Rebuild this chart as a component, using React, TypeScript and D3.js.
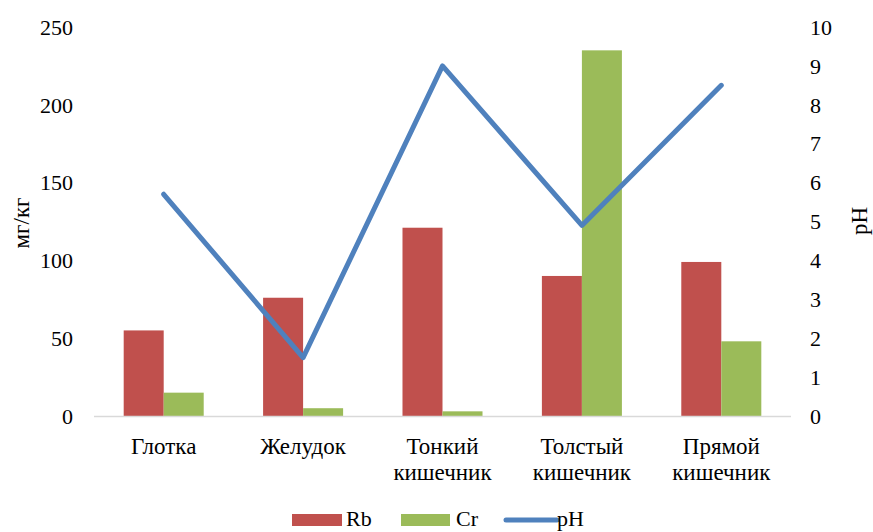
import React from "react";
import * as d3 from "d3";

const categories = [["Глотка"], ["Желудок"], ["Тонкий", "кишечник"], ["Толстый", "кишечник"], ["Прямой", "кишечник"]];
const rbValues = [55, 76, 121, 90, 99];
const crValues = [15, 5, 3, 235, 48];
const phValues = [5.7, 1.5, 9.0, 4.9, 8.5];
const leftTicks = [0, 50, 100, 150, 200, 250];
const rightTicks = [0, 1, 2, 3, 4, 5, 6, 7, 8, 9, 10];

const W = 873, H = 532;
const plot = { left: 94, right: 791, top: 27, bottom: 416 };
const RED = "#C0504D", GREEN = "#9BBB59", BLUE = "#4F81BD";
const FONT = "'Liberation Serif', 'Times New Roman', serif";

export default function App() {
  const idx = categories.map((_, i) => String(i));
  const x = d3.scaleBand().domain(idx).range([plot.left, plot.right]).paddingInner(0).paddingOuter(0);
  const yL = d3.scaleLinear().domain([0, 250]).range([plot.bottom, plot.top]);
  const yR = d3.scaleLinear().domain([0, 10]).range([plot.bottom, plot.top]);
  const bw = x.bandwidth() * 0.287;
  const cx = (i: number) => (x(String(i)) as number) + x.bandwidth() / 2;
  const line = d3.line<number>().x((_, i) => cx(i)).y((d) => yR(d));

  return (
    <svg width={W} height={H} style={{ position: "absolute", left: 0, top: 0, background: "#fff" }} fontFamily={FONT}>
      {rbValues.map((v, i) => (
        <rect key={"rb" + i} x={cx(i) - bw} y={yL(v)} width={bw} height={yL(0) - yL(v)} fill={RED} />
      ))}
      {crValues.map((v, i) => (
        <rect key={"cr" + i} x={cx(i)} y={yL(v)} width={bw} height={yL(0) - yL(v)} fill={GREEN} />
      ))}
      <line x1={plot.left} x2={plot.right} y1={plot.bottom + 0.5} y2={plot.bottom + 0.5} stroke="#D9D9D9" strokeWidth={1.5} />
      <path d={line(phValues) || ""} fill="none" stroke={BLUE} strokeWidth={5} strokeLinejoin="round" strokeLinecap="round" />
      {leftTicks.map((t) => (
        <text key={"l" + t} x={73} y={yL(t)} dy="0.35em" textAnchor="end" fontSize={22} fill="#000">{t}</text>
      ))}
      {rightTicks.map((t) => (
        <text key={"r" + t} x={810} y={yR(t)} dy="0.35em" textAnchor="start" fontSize={22} fill="#000">{t}</text>
      ))}
      <text transform="translate(21,223) rotate(-90)" textAnchor="middle" dy="0.35em" fontSize={23}>мг/кг</text>
      <text transform="translate(859,221) rotate(-90)" textAnchor="middle" dy="0.35em" fontSize={23}>pH</text>
      {categories.map((lines, i) => (
        <text key={"c" + i} x={cx(i)} y={446} textAnchor="middle" fontSize={23}>
          {lines.map((s, j) => (
            <tspan key={j} x={cx(i)} dy={j === 0 ? "0.35em" : "1.12em"}>{s}</tspan>
          ))}
        </text>
      ))}
      <g fontSize={22}>
        <rect x={292} y={514} width={50} height={12} fill={RED} />
        <text x={346} y={518} dy="0.35em">Rb</text>
        <rect x={401} y={514} width={49} height={12} fill={GREEN} />
        <text x={456} y={518} dy="0.35em">Cr</text>
        <line x1={506} x2={557} y1={520} y2={520} stroke={BLUE} strokeWidth={5} strokeLinecap="round" />
        <text x={557} y={518} dy="0.35em">pH</text>
      </g>
    </svg>
  );
}
